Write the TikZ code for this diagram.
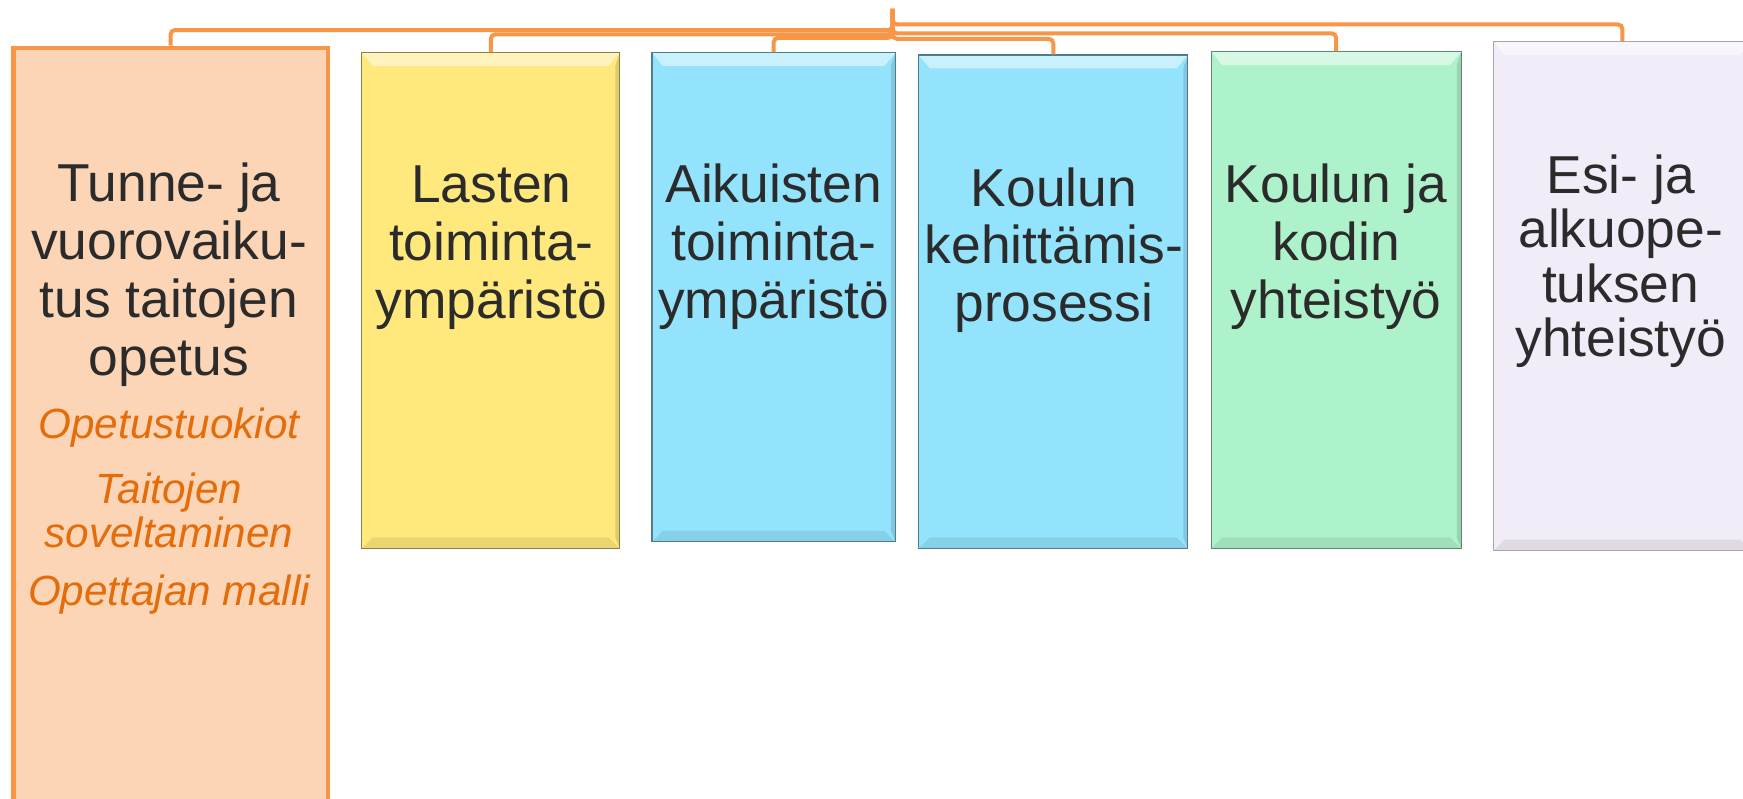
\documentclass[tikz,border=0pt]{standalone}
\usepackage{fontspec}
\setmainfont{Liberation Sans}
\usetikzlibrary{positioning}
\definecolor{ora}{HTML}{F79646}
\definecolor{oratext}{HTML}{E46C0A}
\definecolor{peach}{HTML}{FBD5B5}
\definecolor{ylw}{HTML}{FFE87C}
\definecolor{sky}{HTML}{93E3FC}
\definecolor{mint}{HTML}{AEF2CB}
\definecolor{lav}{HTML}{F1ECF7}
\definecolor{txt}{HTML}{2B2B2B}
\tikzset{
  conn/.style={draw=ora,line width=1.8pt,rounded corners=2pt},
  bevel/.style={draw=#1!55!black,line width=0.5pt,fill=#1,
    path picture={
      \fill[white,opacity=.5] (path picture bounding box.north west) -- (path picture bounding box.north east)
        -- ([shift={(-5pt,-6pt)}]path picture bounding box.north east) -- ([shift={(5pt,-6pt)}]path picture bounding box.north west) -- cycle;
      \fill[black,opacity=.08] (path picture bounding box.south west) -- (path picture bounding box.south east)
        -- ([shift={(-5pt,5pt)}]path picture bounding box.south east) -- ([shift={(5pt,5pt)}]path picture bounding box.south west) -- cycle;
      \fill[black,opacity=.12] (path picture bounding box.north east) -- (path picture bounding box.south east)
        -- ([shift={(-2pt,5pt)}]path picture bounding box.south east) -- ([shift={(-2pt,-6pt)}]path picture bounding box.north east) -- cycle;
    }},
  topic/.style={text=txt,align=center,inner sep=0pt,font=\fontsize{24}{26}\selectfont},
  sub/.style={text=oratext,align=center,inner sep=0pt,font=\fontsize{19}{20}\selectfont\itshape}
}
\begin{document}
\begin{tikzpicture}[x=0.5pt,y=-0.5pt]
  \useasboundingbox[fill=white] (0,0) rectangle (1568,718);
  %% boxes
  \node[draw=ora,line width=2pt,fill=peach,anchor=north west,minimum width=141.5pt,minimum height=344.5pt] (b1) at (10,41) {};
  \node[bevel=ylw,anchor=north west,minimum width=116pt,minimum height=223pt] (b2) at (325,47) {};
  \node[bevel=sky,anchor=north west,minimum width=109.5pt,minimum height=220pt] (b3) at (586,47) {};
  \node[bevel=sky,anchor=north west,minimum width=121pt,minimum height=222pt] (b4) at (826,49) {};
  \node[bevel=mint,anchor=north west,minimum width=112.5pt,minimum height=223.5pt] (b5) at (1089,46) {};
  \node[bevel=lav,draw=black!35,anchor=north west,minimum width=116pt,minimum height=229pt] (b6) at (1343,37) {};
  %% texts
  \node[topic] (t1) at (152,247) {Tunne- ja\\vuorovaiku-\\tus taitojen\\opetus};
  \node[sub] (s1) at (152,385) {Opetustuokiot};
  \node[sub] (s2) at (152,459) {Taitojen\\soveltaminen};
  \node[sub] (s3) at (152,535) {Opettajan malli};
  \node[topic] (t2) at (442,223) {Lasten\\toiminta-\\ympäristö};
  \node[topic] (t3) at (696,222) {Aikuisten\\toiminta-\\ympäristö};
  \node[topic] (t4) at (948,225) {Koulun\\kehittämis-\\prosessi};
  \node[topic] (t5) at (1202,222) {Koulun ja\\kodin\\yhteistyö};
  \node[topic,font=\fontsize{24}{24.5}\selectfont] (t6) at (1458,235) {Esi- ja\\alkuope-\\tuksen\\yhteistyö};
  %% connectors
  \coordinate (hub) at (803,8);
  \draw[conn] (hub) -- ++(0,19) -| (b1.north);
  \draw[conn] (hub) -- ++(0,23) -| (b2.north);
  \draw[conn] (hub) -- ++(0,26) -| (b3.north);
  \draw[conn] (hub) -- ++(0,27) -| (b4.north);
  \draw[conn] (hub) -- ++(0,22) -| (b5.north);
  \draw[conn] (hub) -- ++(0,14) -| (b6.north);
\end{tikzpicture}
\end{document}
